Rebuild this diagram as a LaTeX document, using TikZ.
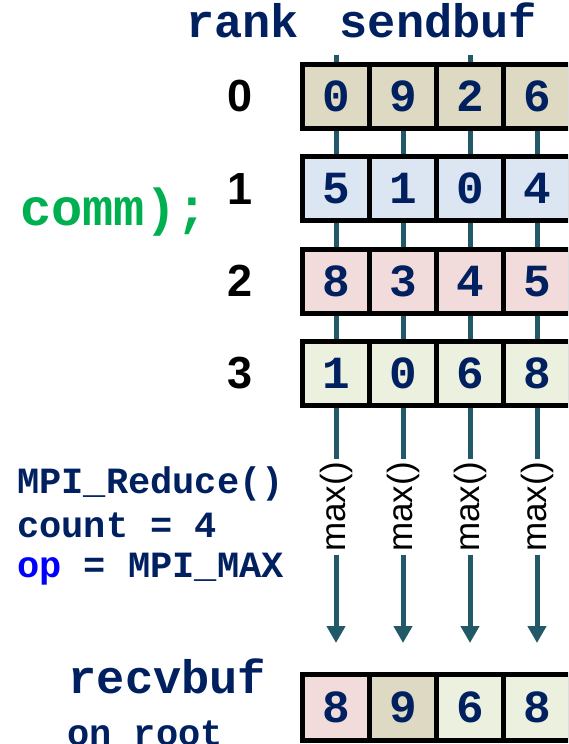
\documentclass[tikz,border=0pt]{standalone}
\usepackage{fontspec}
\newfontfamily\codefont{Liberation Mono}
\newfontfamily\plainfont{Liberation Sans}
\usetikzlibrary{arrows.meta,backgrounds}
\definecolor{navy}{RGB}{0,32,96}
\definecolor{wirecol}{RGB}{33,89,104}
\definecolor{codegreen}{RGB}{0,176,80}
\definecolor{opblue}{RGB}{0,0,255}
\definecolor{rankzero}{RGB}{221,217,195}
\definecolor{rankone}{RGB}{220,230,242}
\definecolor{ranktwo}{RGB}{242,220,219}
\definecolor{rankthree}{RGB}{235,241,222}

\begin{document}
\begin{tikzpicture}[x=1pt,y=-1pt,
    every node/.style={inner sep=0pt},
    cell/.style={draw=black,line width=5pt,minimum width=67pt,minimum height=64pt,
      text=navy,font=\codefont\bfseries\fontsize{46}{46}\selectfont},
    wire/.style={color=wirecol,line width=5pt},
    codetext/.style={text=navy,font=\codefont\bfseries\fontsize{#1}{#1}\selectfont},
    ranknum/.style={font=\plainfont\bfseries\fontsize{45}{45}\selectfont},
    opname/.style={rotate=90,inner xsep=3pt,font=\plainfont\fontsize{35}{35}\selectfont}]
\useasboundingbox (0,0) rectangle (568,744);
\clip (0,0) rectangle (568,744);

\node[codetext=47,anchor=base] (ranktitle) at (242.5,37) {rank};
\node[codetext=47,anchor=base] (sendtitle) at (438.5,37) {sendbuf};
\node[codetext=52,anchor=base,text=codegreen] (commtail) at (114,225) {comm);};

\foreach \r/\fillc/\vals in {0/rankzero/{0,9,2,6},1/rankone/{5,1,0,4},
    2/ranktwo/{8,3,4,5},3/rankthree/{1,0,6,8}}{
  \node[ranknum] (rank\r) at (240,96.5+92.3*\r) {\r};
  \foreach \v [count=\c] in \vals
    \node[cell,fill=\fillc] (c\r-\c) at (269+67*\c,96.5+92.3*\r) {\v};
}

\node[codetext=37,anchor=base west] (call) at (17,493) {MPI\_Reduce()};
\node[codetext=37,anchor=base west] (count) at (17,537) {count = 4};
\node[codetext=37,anchor=base west] (op) at (17,577) {\textcolor{opblue}{op} = MPI\_MAX};

\foreach \c in {1,...,4}{
  \node[opname] (max\c) at (269+67*\c,507) {max()};
  \coordinate (tip\c) at (269+67*\c,643);
}
\foreach \c in {1,3}
  \coordinate (stub\c) at ([yshift=7pt]c0-\c.north);

\node[codetext=47,anchor=base] (recvtitle) at (167.5,693) {recvbuf};
\node[codetext=37,anchor=base west] (root) at (67,745) {on root};
\foreach \v/\fillc [count=\c] in {8/ranktwo,9/rankzero,6/rankthree,8/rankthree}
  \node[cell,fill=\fillc,minimum height=66pt] (recv\c) at (269+67*\c,707.5) {\v};

\begin{scope}[on background layer]
  \foreach \r/\s in {0/1,1/2,2/3}
    \foreach \c in {1,...,4}
      \draw[wire] (c\r-\c.south) -- (c\s-\c.north);
  \foreach \c in {1,3}
    \draw[wire] (c0-\c.north) -- (stub\c);
  \foreach \c in {1,...,4}{
    \draw[wire] (c3-\c.south) -- (max\c.east);
    \draw[wire,-{Triangle[width=18pt,length=17pt]}] (max\c.west) -- (tip\c);
  }
\end{scope}
\end{tikzpicture}
\end{document}
